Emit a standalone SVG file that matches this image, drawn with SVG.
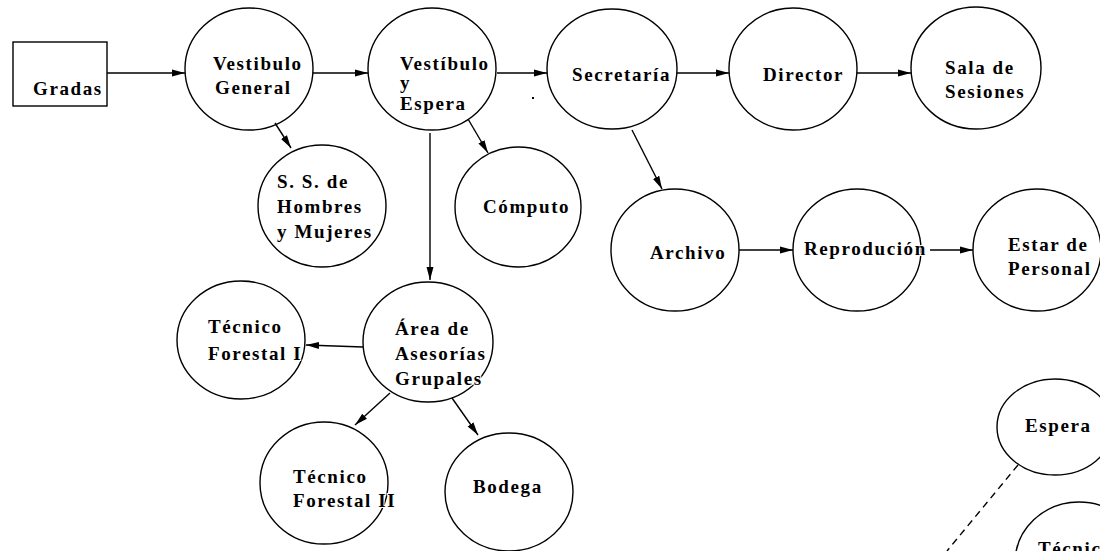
<svg xmlns="http://www.w3.org/2000/svg" width="1100" height="551" viewBox="0 0 1100 551">
<style>
.n ellipse, .n rect { fill: #fff; stroke: #000; stroke-width: 1.4; }
text { font-family: "Liberation Serif", "DejaVu Serif", serif; font-weight: bold; font-size: 19px; letter-spacing: 1.6px; fill: #000; stroke: #fff; stroke-width: 2; paint-order: stroke; }
.c line { stroke: #000; stroke-width: 1.4; marker-end: url(#ah); }
.c line.d { stroke-dasharray: 7 5; marker-end: none; }
</style>
<defs>
<marker id="ah" markerWidth="14" markerHeight="10" refX="13" refY="5" orient="auto" markerUnits="userSpaceOnUse">
<path d="M0,1.5 L13,5 L0,8.5 Z" fill="#000"/>
</marker>
</defs>
<rect width="1100" height="551" fill="#fff"/>
<g id="gradas" class="n"><rect x="13" y="42" width="94" height="64"/><text x="33" y="95">Gradas</text></g>
<g id="vestibulo-general" class="n"><ellipse cx="249" cy="69" rx="64" ry="61"/><text x="213" y="70">Vestibulo</text><text x="215" y="94">General</text></g>
<g id="vestibulo-espera" class="n"><ellipse cx="432" cy="69" rx="64" ry="61"/><text x="400" y="70">Vestíbulo</text><text x="400" y="89">y</text><text x="400" y="110">Espera</text></g>
<g id="secretaria" class="n"><ellipse cx="612" cy="69" rx="65" ry="60"/><text x="572" y="81">Secretaría</text></g>
<g id="director" class="n"><ellipse cx="793" cy="69" rx="64" ry="61"/><text x="763" y="81">Director</text></g>
<g id="sala" class="n"><ellipse cx="976" cy="68" rx="65" ry="61"/><text x="945" y="74">Sala de</text><text x="945" y="98">Sesiones</text></g>
<g id="ss" class="n"><ellipse cx="322" cy="206" rx="64" ry="61"/><text x="277" y="188">S. S. de</text><text x="277" y="213">Hombres</text><text x="277" y="238">y Mujeres</text></g>
<g id="computo" class="n"><ellipse cx="518" cy="207" rx="63" ry="60"/><text x="483" y="213">Cómputo</text></g>
<g id="archivo" class="n"><ellipse cx="675" cy="250" rx="64" ry="61"/><text x="650" y="259">Archivo</text></g>
<g id="reproduccion" class="n"><ellipse cx="857" cy="250" rx="64" ry="61"/><text x="804" y="255">Reprodución</text></g>
<g id="estar" class="n"><ellipse cx="1037" cy="250" rx="64" ry="61"/><text x="1008" y="251">Estar de</text><text x="1008" y="275">Personal</text></g>
<g id="tecnico1" class="n"><ellipse cx="241" cy="340" rx="64" ry="59"/><text x="208" y="333">Técnico</text><text x="208" y="360">Forestal I</text></g>
<g id="area" class="n"><ellipse cx="428" cy="342" rx="65" ry="60"/><text x="395" y="335">Área de</text><text x="395" y="360">Asesorías</text><text x="395" y="385">Grupales</text></g>
<g id="tecnico2" class="n"><ellipse cx="324" cy="483" rx="64" ry="61"/><text x="293" y="483">Técnico</text><text x="293" y="507">Forestal II</text></g>
<g id="bodega" class="n"><ellipse cx="509" cy="492" rx="64" ry="59"/><text x="473" y="493">Bodega</text></g>
<g id="espera" class="n"><ellipse cx="1055" cy="427" rx="58" ry="48"/><text x="1025" y="432">Espera</text></g>
<g id="tecnico3" class="n"><ellipse cx="1079" cy="563" rx="64" ry="61"/><text x="1038" y="555">Técnico</text></g>
<g id="connectors" class="c">
<line x1="107" y1="73" x2="185" y2="73"/>
<line x1="313" y1="73" x2="368" y2="73"/>
<line x1="497" y1="73" x2="547" y2="73"/>
<line x1="677" y1="73" x2="729" y2="73"/>
<line x1="857" y1="73" x2="911" y2="73"/>
<line x1="275" y1="123" x2="291" y2="148"/>
<line x1="468" y1="119" x2="488" y2="153"/>
<line x1="430" y1="133" x2="430" y2="280"/>
<line x1="632" y1="130" x2="662" y2="189"/>
<line x1="739" y1="250" x2="793" y2="250"/>
<line x1="930" y1="250" x2="973" y2="250"/>
<line x1="363" y1="347" x2="306" y2="345"/>
<line x1="390" y1="393" x2="355" y2="425"/>
<line x1="452" y1="398" x2="478" y2="435"/>
<line class="d" x1="1018" y1="465" x2="947" y2="551"/>
</g>
<rect x="532" y="97" width="2" height="2" fill="#000"/>
</svg>
